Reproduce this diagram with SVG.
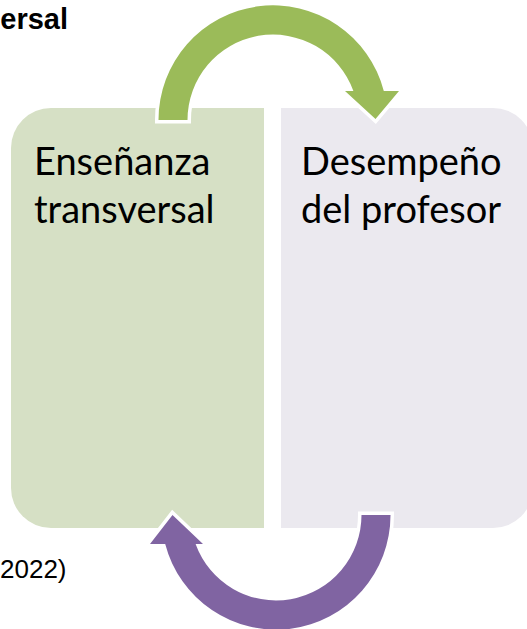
<svg xmlns="http://www.w3.org/2000/svg" width="527" height="629" viewBox="0 0 527 629">
<style>
.cap{font-family:"Liberation Sans",Arial,sans-serif;fill:#000}
.lbl{font-family:Lato,"Open Sans",sans-serif;font-size:38px;fill:#000}
.arr{stroke:#fff;stroke-width:7;stroke-linejoin:miter;paint-order:stroke}
</style>
<rect width="527" height="629" fill="#fff"/>
<text class="cap" x="68" y="29" text-anchor="end" font-weight="bold" font-size="29">ersal</text>
<text class="cap" x="0" y="578" font-size="26">2022)</text>
<g id="node-ensenanza">
<path d="M51,108 H264 V528 H51 A40,40 0 0 1 11,488 V148 A40,40 0 0 1 51,108 Z" fill="#D6E0C5"/>
<text class="lbl" x="34" y="175">Enseñanza</text>
<text class="lbl" x="34" y="223">transversal</text>
</g>
<g id="node-desempeno">
<path d="M281,108 H493 A40,40 0 0 1 533,148 V488 A40,40 0 0 1 493,528 H281 Z" fill="#EBE9EF"/>
<text class="lbl" x="301" y="175">Desempeño</text>
<text class="lbl" x="301" y="223">del profesor</text>
</g>
<g id="connectors">
<path class="arr" fill="#9BBB59" d="M158.5,120 A114.5,114.5 0 0 1 383.8,91 L399,91 L375.5,119 L345,91 L353.4,91 A85.5,85.5 0 0 0 187.5,120 Z"/>
<path class="arr" fill="#8064A2" d="M361.5,515 L390.5,515 A114.5,114.5 0 0 1 165.2,544 L150,544 L172.5,515 L203,544 L195.6,544 A85.5,85.5 0 0 0 361.5,515 Z"/>
</g>
</svg>
